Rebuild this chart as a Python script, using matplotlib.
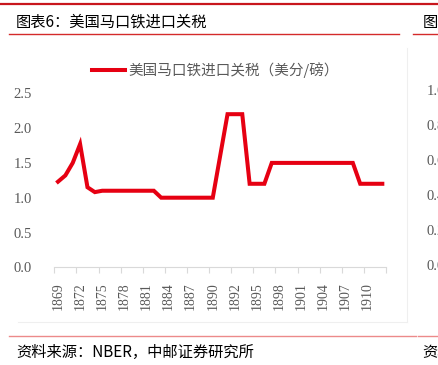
import matplotlib
matplotlib.use("Agg")
import matplotlib.pyplot as plt
from matplotlib.lines import Line2D
from matplotlib.ticker import FixedLocator, NullFormatter

plt.rcParams['font.family'] = ['Noto Sans CJK SC', 'DejaVu Sans']

# Données
years = [str(y) for y in range(1869, 1891)] + ["1891", "1891"] + [str(y) for y in range(1892, 1913)]
tariff = ([1.23, 1.32, 1.5, 1.77, 1.15, 1.08]
          + [1.10] * 8
          + [1.0] * 8
          + [1.6]
          + [2.2] * 3
          + [1.2] * 3
          + [1.5] * 12
          + [1.2] * 4)
yticks = [0.0, 0.5, 1.0, 1.5, 2.0, 2.5]
right_ticks = ["1.0", "0.8", "0.6", "0.4", "0.2", "0.0"]

title = "图表6：美国马口铁进口关税"
legend_label = "美国马口铁进口关税（美分/磅）"
source = "资料来源：NBER，中邮证券研究所"

W, H = 439, 365
fig = plt.figure(figsize=(W / 100, H / 100), dpi=100)

def fx(px):
    return px / W

def fy(py):
    return 1 - py / H

# Lignes rouges du cadre de la page
fig.add_artist(Line2D([0, 1], [fy(4), fy(4)], color="#C8161D", lw=1.6))
fig.add_artist(Line2D([fx(9), fx(399)], [fy(33.5), fy(33.5)], color="#D42A2A", lw=1.0))
fig.add_artist(Line2D([fx(413), 1], [fy(33.5), fy(33.5)], color="#D42A2A", lw=1.0))
fig.add_artist(Line2D([fx(9), fx(416)], [fy(336), fy(336)], color="#EC8A8A", lw=1.0))
fig.add_artist(Line2D([fx(418), 1], [fy(336), fy(336)], color="#EC8A8A", lw=1.0))

# Bordure claire de la zone du graphique
fig.add_artist(Line2D([fx(18), fx(407)], [fy(322), fy(322)], color="#EFEFEF", lw=0.8))
fig.add_artist(Line2D([fx(407), fx(407)], [fy(48), fy(322)], color="#EFEFEF", lw=0.8))

fig.text(fx(16), fy(22), title, fontsize=11, color="black", va="center", ha="left")
fig.text(fx(423), fy(22), "图表7", fontsize=11, color="black", va="center", ha="left")
fig.text(fx(16), fy(352), source, fontsize=11, color="black", va="center", ha="left")
fig.text(fx(422), fy(352), "资料", fontsize=11, color="black", va="center", ha="left")

# Axe du graphique voisin (coupé)
for i, lab in enumerate(right_ticks):
    fig.text(fx(426.5), fy(91.7 + 35 * i), lab, fontsize=10.5, color="#595959",
             family="Liberation Serif", va="center", ha="left")

ax = fig.add_axes([fx(54.3), fy(267.3), fx(386) - fx(54.3), fy(93.3) - fy(267.3)])
x = list(range(len(years)))
ax.plot(x, tariff, color="#E60012", lw=2.9, solid_joinstyle="miter")

ax.set_xlim(-0.5, len(years) - 0.5)
ax.set_ylim(0, 2.5)
ax.set_yticks(yticks)
ax.set_yticklabels([f"{v:.1f}" for v in yticks], family="Liberation Serif",
                   fontsize=10.5, color="#595959")
ax.tick_params(axis="y", length=0, pad=16)

label_pos = x[::3]
ax.set_xticks(label_pos)
ax.set_xticklabels([years[i] for i in label_pos], rotation=90, family="Liberation Serif",
                   fontsize=10, color="#595959")
ax.tick_params(axis="x", which="major", length=0, pad=11)
ax.xaxis.set_minor_locator(FixedLocator([i - 0.5 for i in range(0, len(years) + 1, 3)]))
ax.xaxis.set_minor_formatter(NullFormatter())
ax.tick_params(axis="x", which="minor", length=4, color="#D9D9D9", width=0.8)

for side in ["top", "right", "left"]:
    ax.spines[side].set_visible(False)
ax.spines["bottom"].set_color("#D9D9D9")
ax.spines["bottom"].set_linewidth(0.8)

# Légende
fig.add_artist(Line2D([fx(92), fx(125)], [fy(70), fy(70)], color="#E60012", lw=2.9))
fig.text(fx(128), fy(70), legend_label, fontsize=10.5, color="#595959", va="center", ha="left")

fig.savefig("out.png", dpi=100)
